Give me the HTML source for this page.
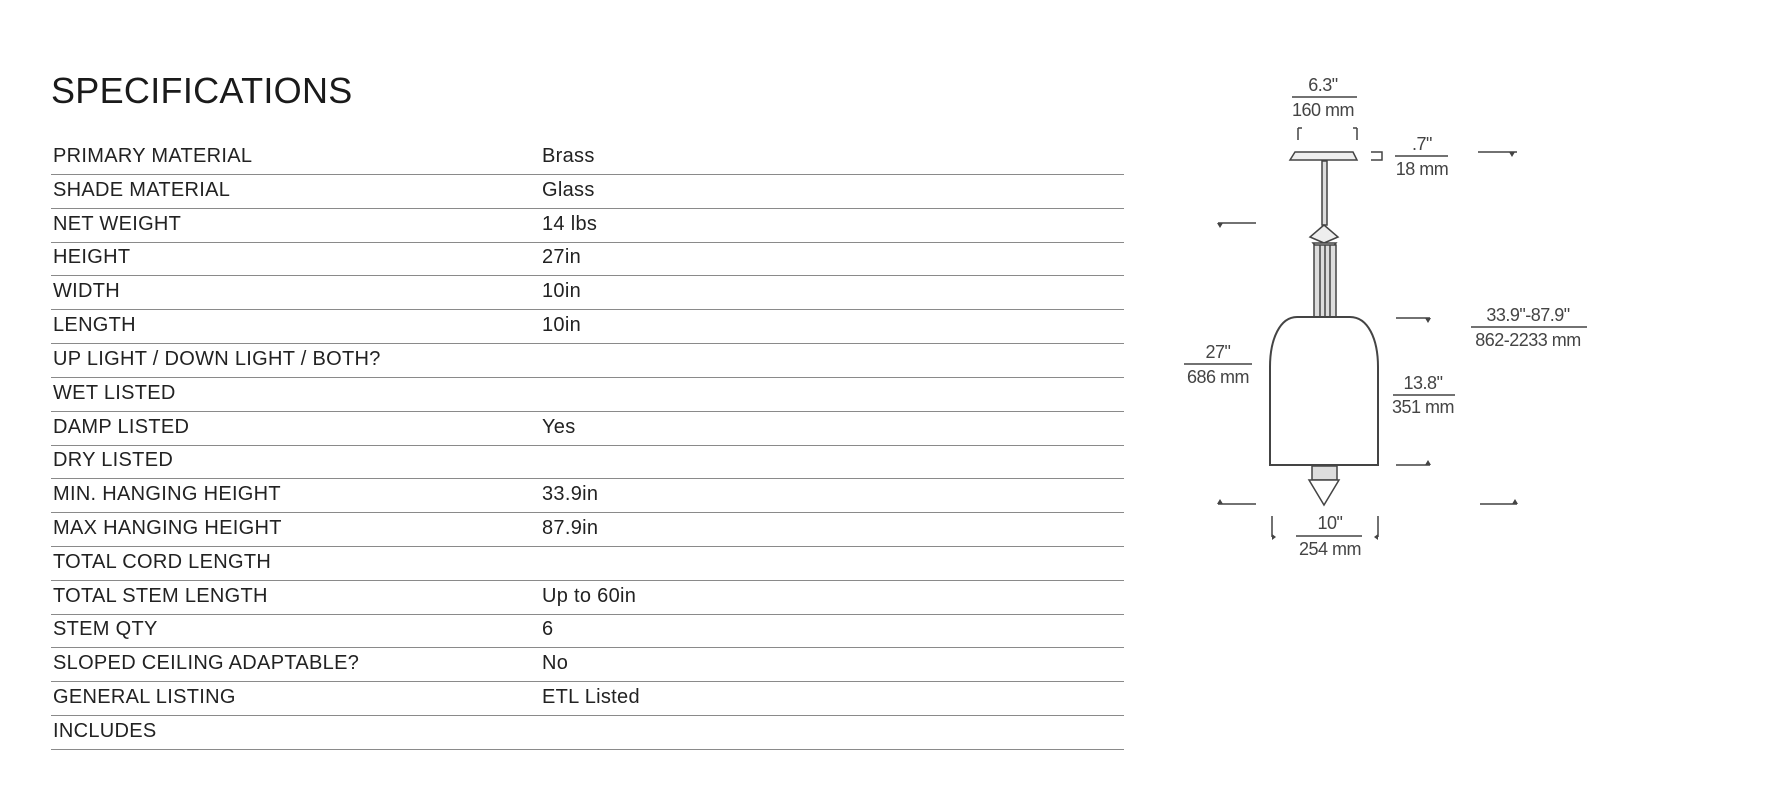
<!DOCTYPE html>
<html><head><meta charset="utf-8"><style>
body{margin:0;width:1765px;height:812px;background:#fff;position:relative;overflow:hidden;font-family:"Liberation Sans",sans-serif;color:#222}
h1{position:absolute;left:51px;top:70px;margin:0;font-weight:normal;font-size:36px;letter-spacing:0.3px;color:#1a1a1a}
.r{position:absolute;left:51px;width:1073px;height:34px;border-bottom:1.5px solid #8a8a8a;font-size:20px;letter-spacing:0.3px}
.r span{position:absolute;bottom:6px;left:2px}
.r b{font-weight:normal;position:absolute;bottom:6px;left:491px}
svg{position:absolute;left:0;top:0}
svg text{font-family:"Liberation Sans",sans-serif;font-size:18px;fill:#444;text-anchor:middle;letter-spacing:-0.5px}
</style></head><body>
<h1>SPECIFICATIONS</h1>
<div class="r" style="top:140px"><span>PRIMARY MATERIAL</span><b>Brass</b></div>
<div class="r" style="top:174px"><span>SHADE MATERIAL</span><b>Glass</b></div>
<div class="r" style="top:208px"><span>NET WEIGHT</span><b>14 lbs</b></div>
<div class="r" style="top:241px"><span>HEIGHT</span><b>27in</b></div>
<div class="r" style="top:275px"><span>WIDTH</span><b>10in</b></div>
<div class="r" style="top:309px"><span>LENGTH</span><b>10in</b></div>
<div class="r" style="top:343px"><span>UP LIGHT / DOWN LIGHT / BOTH?</span></div>
<div class="r" style="top:377px"><span>WET LISTED</span></div>
<div class="r" style="top:411px"><span>DAMP LISTED</span><b>Yes</b></div>
<div class="r" style="top:444px"><span>DRY LISTED</span></div>
<div class="r" style="top:478px"><span>MIN. HANGING HEIGHT</span><b>33.9in</b></div>
<div class="r" style="top:512px"><span>MAX HANGING HEIGHT</span><b>87.9in</b></div>
<div class="r" style="top:546px"><span>TOTAL CORD LENGTH</span></div>
<div class="r" style="top:580px"><span>TOTAL STEM LENGTH</span><b>Up to 60in</b></div>
<div class="r" style="top:613px"><span>STEM QTY</span><b>6</b></div>
<div class="r" style="top:647px"><span>SLOPED CEILING ADAPTABLE?</span><b>No</b></div>
<div class="r" style="top:681px"><span>GENERAL LISTING</span><b>ETL Listed</b></div>
<div class="r" style="top:715px"><span>INCLUDES</span></div>
<svg width="1765" height="812" viewBox="0 0 1765 812">
<g stroke="#444" stroke-width="1.5" fill="none">
<line x1="1292" y1="97" x2="1357" y2="97"/>
<path d="M1298 128v12M1298 128h4M1357 128v12M1357 128h-4"/>
<path d="M1295 152h58l4 8h-67z" fill="#eee"/>
<rect x="1322" y="161" width="5" height="64" fill="#ddd"/>
<path d="M1324 225l-14 12l14 6l14-6z" fill="#eee"/>
<path d="M1313 243h23l-11 14z" fill="#eee"/>
<rect x="1314" y="245" width="22" height="72" fill="#ddd"/>
<line x1="1320" y1="245" x2="1320" y2="317"/><line x1="1325" y1="245" x2="1325" y2="317"/><line x1="1330" y1="245" x2="1330" y2="317"/>
<path d="M1297 317h53c18 0 28 22 28 50v98h-108v-98c0-28 10-50 27-50z" fill="#fff" stroke-width="2"/>
<rect x="1312" y="466" width="25" height="14" fill="#ddd"/>
<path d="M1309 480h30l-15 25z" fill="#fff"/>
<path d="M1371 152h11v8h-11"/>
<line x1="1395" y1="156" x2="1448" y2="156"/>
<line x1="1478" y1="152" x2="1517" y2="152"/>
<line x1="1218" y1="223" x2="1256" y2="223"/>
<line x1="1396" y1="318" x2="1430" y2="318"/>
<line x1="1396" y1="465" x2="1430" y2="465"/>
<line x1="1218" y1="504" x2="1256" y2="504"/>
<line x1="1480" y1="504" x2="1517" y2="504"/>
<line x1="1471" y1="327" x2="1587" y2="327"/>
<line x1="1184" y1="364" x2="1252" y2="364"/>
<line x1="1393" y1="395" x2="1455" y2="395"/>
<line x1="1296" y1="536" x2="1362" y2="536"/>
<path d="M1272 516v21M1378 516v21"/>
</g>
<g fill="#444">
<path d="M1509 152h6l-3 5z"/><path d="M1217 223h6l-3 5z"/><path d="M1425 318h6l-3 5z"/><path d="M1425 465h6l-3-5z"/>
<path d="M1217 504h6l-3-5z"/><path d="M1512 504h6l-3-5z"/><path d="M1272 534l4 3-4 3z"/><path d="M1378 534l-4 3 4 3z"/>
</g>
<text x="1323" y="91">6.3"</text><text x="1323" y="116">160 mm</text>
<text x="1422" y="150">.7"</text><text x="1422" y="175">18 mm</text>
<text x="1528" y="321">33.9"-87.9"</text><text x="1528" y="346">862-2233 mm</text>
<text x="1218" y="358">27"</text><text x="1218" y="383">686 mm</text>
<text x="1423" y="389">13.8"</text><text x="1423" y="413">351 mm</text>
<text x="1330" y="529">10"</text><text x="1330" y="555">254 mm</text>
</svg>
</body></html>
